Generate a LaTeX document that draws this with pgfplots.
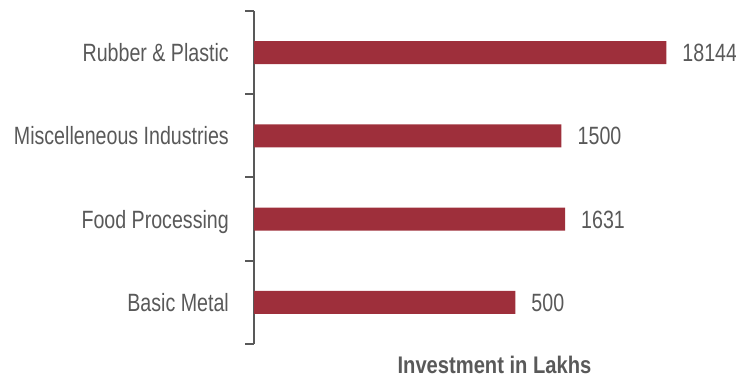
\documentclass[border=0pt]{standalone}
\usepackage{fontspec}
\setmainfont[FakeStretch=0.785]{Liberation Sans}
\newfontfamily\titlefont[FakeStretch=0.84]{Liberation Sans}
\usepackage{pgfplots}
\pgfplotsset{compat=1.18}
\definecolor{barred}{HTML}{9E2F3B}
\definecolor{txtgray}{HTML}{595959}
\definecolor{axgray}{HTML}{595959}
\begin{document}
\begin{tikzpicture}
\useasboundingbox (0,0) rectangle (736bp,378bp);
\begin{axis}[
  at={(254bp,34bp)}, anchor=south west,
  scale only axis,
  width=481bp, height=333bp,
  xmode=log, xmin=1, xmax=93000,
  ymin=-0.5, ymax=3.5,
  axis x line=none,
  axis y line*=left,
  axis line style={draw=axgray, line width=2bp, -},
  y axis line style={draw=axgray, line width=2bp, -},
  ytick={0,1,2,3},
  yticklabels={Basic Metal, Food Processing, Miscelleneous Industries, Rubber \& Plastic},
  major tick length=0pt,
  minor ytick={-0.5,0.5,1.5,2.5,3.5},
  minor tick length=9bp,
  tick align=outside,
  minor tick style={draw=axgray, line width=2bp},
  yticklabel style={font=\fontsize{25bp}{29bp}\selectfont, text=txtgray, inner sep=0pt, anchor=base east, xshift=-25bp, yshift=-9bp},
  xbar, bar width=23bp,
  nodes near coords,
  point meta=explicit symbolic,
  every node near coord/.append style={font=\fontsize{25bp}{29bp}\selectfont, text=txtgray, inner sep=0pt, anchor=base west, xshift=16bp, yshift=-9bp},
  clip=false,
]
\addplot[fill=barred, draw=none] coordinates {
  (500,0) [500]
  (1631,1) [1631]
  (1500,2) [1500]
  (18144,3) [18144]
};
\end{axis}
\node[anchor=base, text=txtgray, inner sep=0pt] at (494.5bp,5bp) {\titlefont\bfseries\fontsize{24bp}{28bp}\selectfont Investment in Lakhs};
\end{tikzpicture}
\end{document}
